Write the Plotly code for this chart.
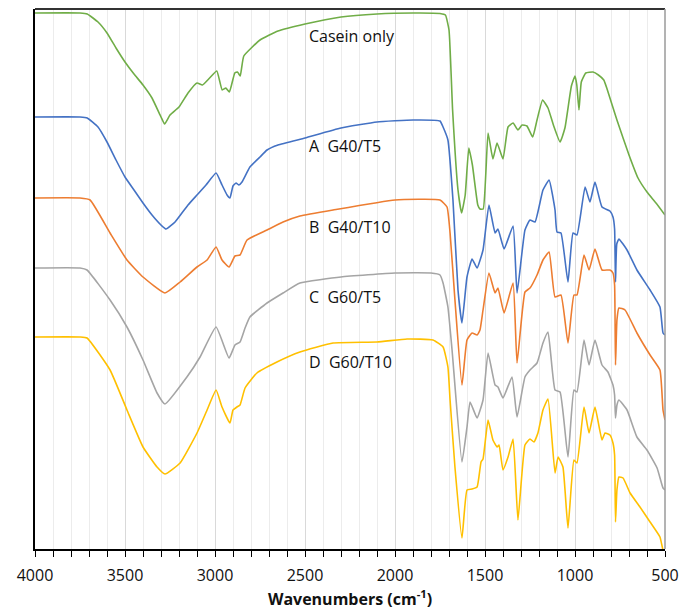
import plotly.graph_objects as go

# Wavenumbers (cm-1) and relative transmittance
casein_wn = [4000, 3750, 3710, 3650, 3600, 3550, 3500, 3450, 3400, 3350, 3300, 3280, 3250, 3200, 3150, 3100,
             3070, 3030, 2990, 2960, 2940, 2920, 2890, 2875, 2860, 2840, 2750, 2650, 2500, 2300, 2100, 1900,
             1750, 1720, 1700, 1680, 1650, 1630, 1610, 1590, 1570, 1540, 1528, 1510, 1483, 1456, 1433, 1400,
             1372, 1344, 1317, 1294, 1267, 1235, 1211, 1180, 1150, 1120, 1083, 1056, 1020, 1000, 990, 978,
             965, 940, 900, 870, 840, 820, 767, 700, 650, 600, 550, 500]
casein_t = [107.2, 107.2, 107.0, 105.4, 103.2, 100.2, 97.4, 95.0, 92.8, 90.2, 86.4, 85.0, 86.8, 88.4, 91.2, 93.2,
            92.8, 94.2, 95.6, 91.8, 92.2, 91.4, 95.2, 95.4, 94.6, 98.6, 101.8, 103.6, 105.0, 106.4, 107.0, 107.2,
            107.1, 106.8, 103.8, 87.8, 71.8, 67.2, 70.8, 80.2, 76.8, 68.8, 68.0, 68.0, 83.2, 78.0, 81.2, 78.0,
            84.4, 85.2, 83.8, 84.8, 84.6, 82.4, 85.8, 89.8, 88.2, 84.8, 81.4, 84.2, 92.6, 94.6, 92.8, 87.8,
            93.4, 95.2, 95.4, 94.8, 93.8, 91.8, 85.8, 78.8, 74.2, 71.4, 69.2, 66.8]

a_wn = [4000, 3750, 3710, 3650, 3600, 3550, 3500, 3450, 3400, 3350, 3300, 3272, 3222, 3150, 3100, 3050,
        2994, 2961, 2933, 2917, 2900, 2883, 2867, 2850, 2806, 2750, 2711, 2650, 2500, 2300, 2100, 1900,
        1750, 1733, 1706, 1678, 1650, 1628, 1600, 1572, 1544, 1511, 1478, 1444, 1428, 1394, 1344, 1322,
        1278, 1250, 1222, 1178, 1144, 1111, 1100, 1078, 1039, 1011, 989, 944, 917, 889, 850, 806,
        789, 780, 775, 768, 756, 711, 656, 583, 528, 511, 500]
a_t = [86.4, 86.4, 86.2, 84.4, 81.4, 77.8, 74.4, 71.8, 69.2, 66.8, 64.8, 64.0, 65.4, 68.8, 70.8, 72.8,
       75.2, 72.8, 70.8, 70.2, 72.6, 73.2, 72.8, 73.4, 76.4, 78.4, 79.8, 80.8, 82.2, 84.2, 85.4, 85.8,
       85.6, 84.4, 81.8, 69.8, 51.8, 45.2, 54.4, 58.0, 56.2, 59.8, 68.8, 63.2, 64.0, 60.0, 64.6, 51.2,
       63.8, 65.8, 65.4, 71.8, 73.8, 67.8, 63.4, 63.2, 53.4, 63.2, 62.8, 72.4, 69.4, 73.4, 68.4, 67.6,
       66.4, 64.0, 53.4, 61.0, 62.0, 59.8, 55.8, 51.8, 48.4, 43.2, 42.8]

b_wn = [4000, 3750, 3694, 3583, 3489, 3400, 3278, 3194, 3100, 3044, 2994, 2961, 2922, 2889, 2861, 2822,
        2711, 2622, 2528, 2344, 2000, 1750, 1711, 1694, 1667, 1628, 1600, 1572, 1544, 1528, 1511, 1478,
        1444, 1428, 1394, 1344, 1322, 1278, 1250, 1211, 1178, 1144, 1111, 1078, 1039, 1006, 989, 950,
        922, 889, 850, 806, 789, 780, 775, 767, 756, 722, 656, 583, 528, 511, 500]
b_t = [70.2, 70.2, 69.8, 63.2, 57.8, 54.4, 51.2, 53.4, 56.4, 57.8, 60.4, 57.8, 56.4, 58.6, 58.8, 61.8,
       63.8, 65.4, 66.6, 67.8, 69.8, 69.8, 68.4, 63.2, 49.8, 32.8, 41.8, 43.2, 42.8, 43.8, 47.8, 55.2,
       51.2, 52.2, 47.2, 53.2, 37.2, 51.4, 52.2, 54.8, 57.8, 59.4, 50.4, 50.8, 41.2, 50.8, 50.8, 58.8,
       55.8, 60.0, 55.8, 55.8, 55.2, 52.8, 36.8, 45.8, 48.2, 47.8, 43.2, 38.8, 35.8, 27.8, 25.8]

c_wn = [4000, 3750, 3711, 3583, 3489, 3400, 3322, 3278, 3156, 3083, 2994, 2922, 2889, 2861, 2833, 2806,
        2711, 2622, 2528, 2300, 2000, 1800, 1750, 1733, 1706, 1683, 1628, 1600, 1583, 1544, 1511, 1483,
        1444, 1428, 1400, 1350, 1322, 1278, 1250, 1211, 1178, 1150, 1111, 1083, 1039, 1006, 989, 950,
        922, 889, 850, 817, 789, 780, 775, 767, 756, 711, 656, 600, 544, 511, 500]
c_t = [56.2, 56.2, 55.8, 49.8, 44.4, 37.8, 31.2, 29.0, 34.4, 38.4, 44.4, 38.2, 40.8, 41.4, 44.2, 46.4,
       49.2, 51.2, 53.2, 54.4, 55.2, 55.2, 54.8, 53.2, 48.4, 39.8, 17.4, 24.4, 29.4, 26.2, 29.8, 39.2,
       32.8, 32.4, 30.2, 34.4, 26.4, 34.4, 35.8, 37.2, 41.2, 43.4, 31.8, 31.4, 18.4, 31.8, 31.4, 41.8,
       36.8, 41.8, 36.8, 35.4, 32.8, 30.8, 26.2, 28.8, 29.8, 27.8, 22.4, 19.8, 16.2, 12.2, 11.8]

d_wn = [4000, 3750, 3711, 3583, 3489, 3400, 3322, 3278, 3194, 3100, 3044, 2994, 2961, 2917, 2900, 2878,
        2861, 2833, 2767, 2656, 2528, 2344, 2100, 1933, 1789, 1733, 1706, 1694, 1667, 1628, 1600, 1572,
        1544, 1522, 1511, 1483, 1456, 1433, 1422, 1400, 1372, 1344, 1317, 1278, 1250, 1228, 1206, 1178,
        1150, 1111, 1094, 1067, 1039, 1006, 989, 950, 922, 889, 850, 833, 806, 789, 780, 775,
        767, 756, 733, 694, 639, 583, 528, 511, 500]
d_t = [42.4, 42.4, 42.2, 35.8, 27.8, 20.4, 16.4, 15.0, 17.2, 23.2, 27.8, 31.8, 28.4, 25.2, 27.8, 28.4,
       28.8, 32.2, 35.2, 37.4, 39.4, 41.2, 41.4, 42.0, 41.8, 40.4, 36.4, 29.8, 16.4, 2.2, 11.8, 12.0,
       12.4, 17.4, 18.0, 25.8, 21.8, 20.4, 20.8, 15.8, 18.4, 22.0, 5.8, 20.8, 22.0, 21.4, 23.2, 27.8,
       30.0, 15.2, 18.4, 16.4, 4.2, 17.8, 17.2, 28.4, 23.2, 28.4, 21.8, 23.2, 22.8, 21.2, 18.8, 5.4,
       11.8, 14.4, 14.2, 11.2, 8.4, 5.4, 2.4, -0.2, -0.6]

series_names = ["Casein only", "A\u00a0 G40/T5", "B\u00a0 G40/T10", "C\u00a0 G60/T5", "D\u00a0 G60/T10"]
series_colors = ["#70AD47", "#4472C4", "#ED7D31", "#A5A5A5", "#FFC000"]
label_wn = 2490
label_t = [102.6, 80.6, 64.4, 50.4, 37.4]

tick_vals = [4000, 3500, 3000, 2500, 2000, 1500, 1000, 500]

fig = go.Figure()
for wn, t, name, col in zip([casein_wn, a_wn, b_wn, c_wn, d_wn],
                            [casein_t, a_t, b_t, c_t, d_t],
                            series_names, series_colors):
    fig.add_trace(go.Scatter(x=wn, y=t, mode="lines", name=name,
                             line=dict(color=col, width=1.6, shape="spline", smoothing=0.4)))

for name, yv in zip(series_names, label_t):
    fig.add_annotation(x=label_wn, y=yv, text=name, showarrow=False, xanchor="left", yanchor="middle",
                       font=dict(family="Open Sans", size=16, color="#111111"))

fig.update_layout(
    width=681, height=611,
    margin=dict(l=35, r=16, t=9, b=62, autoexpand=False),
    paper_bgcolor="white", plot_bgcolor="white",
    showlegend=False,
    font=dict(family="Open Sans", color="#111111"),
)
fig.update_xaxes(
    range=[4000, 500], tickvals=tick_vals, ticktext=[str(v) for v in tick_vals],
    automargin=False,
    ticks="outside", ticklen=6, tickwidth=1, tickcolor="black",
    tickfont=dict(size=16, family="Open Sans", color="#111111"),
    ticklabelstandoff=5,
    showline=True, linecolor="black", linewidth=2,
    showgrid=True, gridcolor="#d9d9d9", gridwidth=1,
    minor=dict(dtick=100, tick0=500, showgrid=True, gridcolor="#ececec", ticks="outside",
               ticklen=6, tickcolor="black"),
    zeroline=False,
    title=dict(text="<b>Wavenumbers (cm<sup>-1</sup>)</b>", font=dict(size=16, family="Open Sans"), standoff=1),
)
fig.update_yaxes(range=[0, 108], showticklabels=False, showgrid=False, zeroline=False, automargin=False,
                 showline=True, linecolor="black", linewidth=2, ticks="")

fig.add_shape(type="line", xref="paper", yref="paper", x0=0, x1=1, y0=1, y1=1,
              line=dict(color="#333333", width=2))
fig.add_shape(type="line", xref="paper", yref="paper", x0=1, x1=1, y0=0, y1=1,
              line=dict(color="#9a9a9a", width=1.5))

fig.write_html("out.html", config={"displayModeBar": False},
               post_script="document.body.style.margin='0';document.body.style.overflow='hidden';")
